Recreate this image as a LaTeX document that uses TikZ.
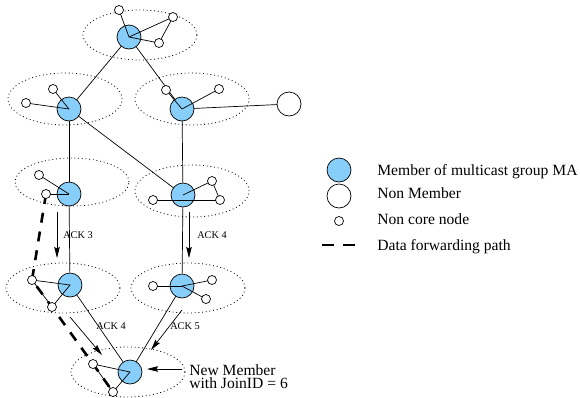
\documentclass[tikz,border=0pt]{standalone}
\usepackage{fontspec}
\setmainfont{Liberation Serif}
\usetikzlibrary{arrows.meta}
\definecolor{memblue}{RGB}{135,206,250}
\begin{document}
\begin{tikzpicture}[x=1pt,y=-1pt,line width=0.7pt,
  member/.style={circle,draw,fill=memblue,minimum size=24pt,inner sep=0pt},
  nonmember/.style={circle,draw,fill=white,minimum size=24pt,inner sep=0pt},
  noncore/.style={circle,draw,fill=white,minimum size=9pt,inner sep=0pt},
  group/.style={draw,line width=0.8pt,dash pattern=on 0.9pt off 2.8pt},
  fwd/.style={line width=2.6pt,dash pattern=on 10pt off 9pt},
  ack/.style={-{Stealth[length=11pt,width=5.5pt,inset=1.5pt]}},
  acklabel/.style={font=\fontsize{10.3}{12}\selectfont,inner sep=0pt},
  legtext/.style={font=\fontsize{15.6}{12.7}\selectfont,inner sep=0pt,anchor=base west}
]
\useasboundingbox (0,0) rectangle (580,397);

% group ellipses
\draw[group] (140,35) ellipse [x radius=57pt, y radius=25pt];
\draw[group] (65,99) ellipse [x radius=57pt, y radius=26pt];
\draw[group] (192,99) ellipse [x radius=57pt, y radius=26pt];
\draw[group] (72,182) ellipse [x radius=57pt, y radius=24pt];
\draw[group] (192,191) ellipse [x radius=57pt, y radius=26pt];
\draw[group] (63,288) ellipse [x radius=57pt, y radius=25pt];
\draw[group] (188,288) ellipse [x radius=57pt, y radius=25pt];
\draw[group] (128,372) ellipse [x radius=57pt, y radius=25pt];

% coordinates of nodes
\coordinate (pM1) at (129,37);
\coordinate (pM2) at (69,109);
\coordinate (pM3) at (182,109);
\coordinate (pM4) at (69,194);
\coordinate (pM5) at (183,195);
\coordinate (pM6) at (70,285);
\coordinate (pM7) at (182,286);
\coordinate (pM8) at (130,372);
\coordinate (pN) at (289,104);

% inter-group connections (behind nodes)
\draw (pM1) -- (pM2);
\draw (pM1) -- (pM3);
\draw (pM2) -- (pM4);
\draw (pM2) -- (pM5);
\draw (pM3) -- (pM5);
\draw (pM3) -- (pN);
\draw (pM4) -- (pM6);
\draw (pM5) -- (pM7);
\draw (pM6) -- (pM8);
\draw (pM7) -- (pM8);

% member nodes
\node[member] (M1) at (pM1) {};
\node[member] (M2) at (pM2) {};
\node[member] (M3) at (pM3) {};
\node[member] (M4) at (pM4) {};
\node[member] (M5) at (pM5) {};
\node[member] (M6) at (pM6) {};
\node[member] (M7) at (pM7) {};
\node[member] (M8) at (pM8) {};
\node[nonmember] (N) at (pN) {};

% non core node positions
\coordinate (pa1) at (119,10);
\coordinate (pb1) at (173,17);
\coordinate (pc1) at (159,43);
\coordinate (pa2) at (26,103);
\coordinate (pb2) at (53,89);
\coordinate (pa3) at (166,90);
\coordinate (pb3) at (219,89);
\coordinate (pa4) at (39,175);
\coordinate (pb4) at (46,194);
\coordinate (pa5) at (153,200);
\coordinate (pb5) at (212,181);
\coordinate (pc5) at (220,200);
\coordinate (pa6) at (32,280);
\coordinate (pb6) at (52,307);
\coordinate (pa7) at (153,286);
\coordinate (pb7) at (212,280);
\coordinate (pc7) at (206,299);
\coordinate (pa8) at (93,364);
\coordinate (pb8) at (113,392);

% internal edges (drawn over member fill)
\draw (M1.center) -- (pa1);
\draw (M1.center) -- (pb1) -- (pc1) -- (M1.center);
\draw (M2.center) -- (pa2);
\draw (M2.center) -- (pb2);
\draw (M3.center) -- (pa3);
\draw (M3.center) -- (pb3);
\draw (M4.center) -- (pa4);
\draw (M4.center) -- (pb4);
\draw (pa5) -- (pc5);
\draw (M5.center) -- (pb5) -- (pc5);
\draw (pa6) -- (M6.center) -- (pb6) -- (pa6);
\draw (M7.center) -- (pa7);
\draw (M7.center) -- (pb7);
\draw (M7.center) -- (pc7);
\draw (pa8) -- (M8.center) -- (pb8) -- (pa8);

% data forwarding path
\draw[fwd] (pb4) -- (pa6) -- (pb6) -- (pa8) -- (pb8);

% non core nodes
\node[noncore] (a1) at (pa1) {};
\node[noncore] (b1) at (pb1) {};
\node[noncore] (c1) at (pc1) {};
\node[noncore] (a2) at (pa2) {};
\node[noncore] (b2) at (pb2) {};
\node[noncore] (a3) at (pa3) {};
\node[noncore] (b3) at (pb3) {};
\node[noncore] (a4) at (pa4) {};
\node[noncore] (b4) at (pb4) {};
\node[noncore] (a5) at (pa5) {};
\node[noncore] (b5) at (pb5) {};
\node[noncore] (c5) at (pc5) {};
\node[noncore] (a6) at (pa6) {};
\node[noncore] (b6) at (pb6) {};
\node[noncore] (a7) at (pa7) {};
\node[noncore] (b7) at (pb7) {};
\node[noncore] (c7) at (pc7) {};
\node[noncore] (a8) at (pa8) {};
\node[noncore] (b8) at (pb8) {};

% ACK arrows
\coordinate (ack3s) at (57,212);
\coordinate (ack3e) at (57,258);
\draw[ack] (ack3s) -- (ack3e);
\node[acklabel] (l3) at (78,235) {ACK 3};

\coordinate (ack4rs) at (189,212);
\coordinate (ack4re) at (189,258);
\draw[ack] (ack4rs) -- (ack4re);
\node[acklabel] (l4r) at (212,235) {ACK 4};

\coordinate (ack4ls) at (70,317);
\coordinate (ack4le) at (102,355);
\draw[ack] (ack4ls) -- (ack4le);
\node[acklabel] (l4l) at (111,326) {ACK 4};

\coordinate (ack5s) at (182,310);
\coordinate (ack5e) at (151,350);
\draw[ack] (ack5s) -- (ack5e);
\node[acklabel] (l5) at (185,326) {ACK 5};

% new member annotation
\node[font=\fontsize{15.6}{13.2}\selectfont,inner sep=0pt,anchor=north west,align=left] (nm) at (189,364.5) {New Member\\with JoinID = 6};
\coordinate (nmas) at (182,369);
\coordinate (nmae) at (147,369);
\draw[ack] (nmas) -- (nmae);

% legend
\node[member] (lm) at (339,170) {};
\node[legtext] (tm) at (377,175) {Member of multicast group MA};
\node[nonmember] (ln) at (339,196) {};
\node[legtext] (tn) at (377,198) {Non Member};
\node[noncore] (ls) at (339,221) {};
\node[legtext] (ts) at (377,224) {Non core node};
\coordinate (ld1) at (322,245);
\coordinate (ld2) at (355,245);
\draw[line width=2.6pt,dash pattern=on 12pt off 9pt] (ld1) -- (ld2);
\node[legtext] (td) at (377,250) {Data forwarding path};
\end{tikzpicture}
\end{document}
